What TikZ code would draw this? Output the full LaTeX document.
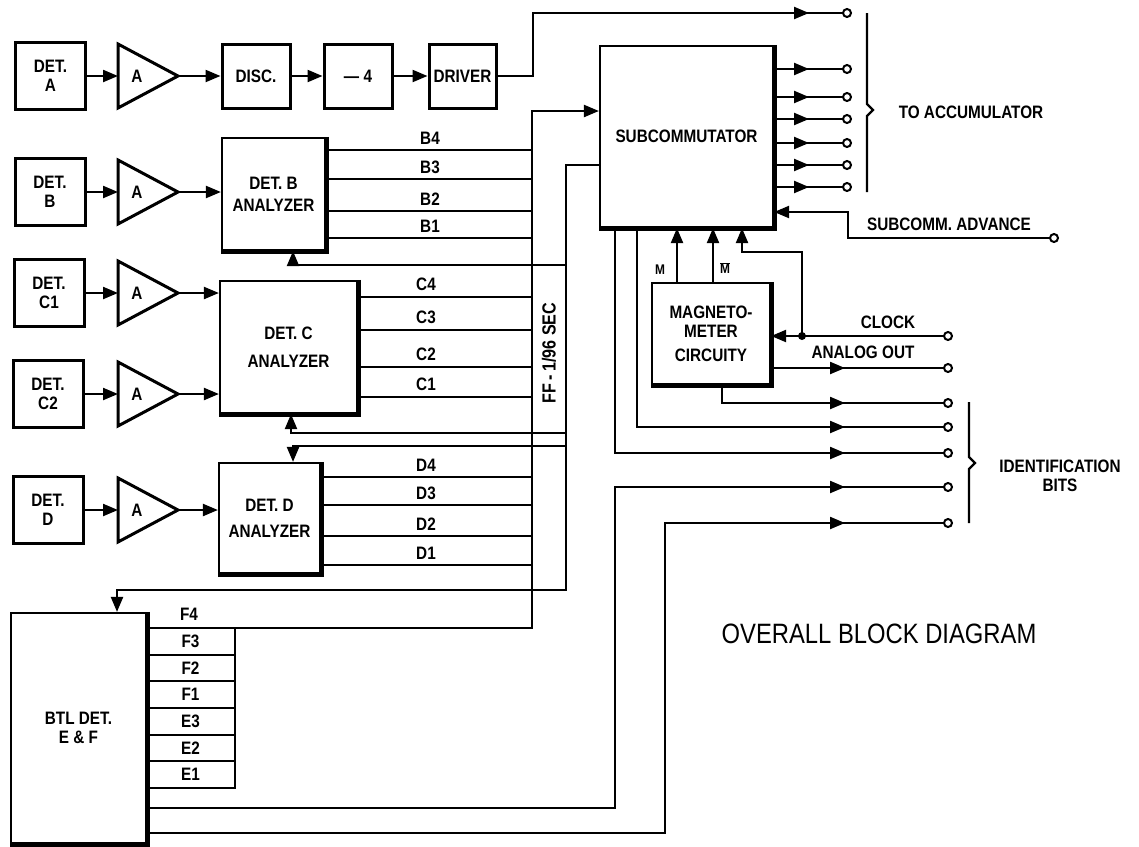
\documentclass[tikz,border=0pt]{standalone}
\usepackage{fontspec}
\setmainfont{Liberation Sans}[FakeStretch=0.85]
\usetikzlibrary{arrows.meta,decorations.markings}

\begin{document}
\begin{tikzpicture}
  [x=1pt, y=-1pt, >={Triangle[length=15pt,width=12pt]},
   every node/.style={font=\bfseries\fontsize{18}{19}\selectfont, inner sep=0pt},
   box/.style={draw, line width=3pt, align=center, minimum width=70pt, minimum height=67pt},
   bigbox/.style={draw, line width=2.2pt, align=center},
   heavy/.style={line width=5pt},
   ampline/.style={line width=3pt, line join=miter},
   sig/.style={line width=2.2pt},
   cell/.style={draw, line width=2pt, minimum width=89pt, minimum height=26.67pt},
   term/.style={circle, draw, line width=2pt, fill=white, minimum size=8pt},
   tipat/.style={decoration={markings, mark=at position #1 with {\arrow{>}}}, postaction=decorate}]
  \useasboundingbox (0,0) rectangle (1139,846);

  % detector A chain
  \node[box] (deta) at (50.5,76) {DET.\\A};
  \node[box, minimum width=68pt, minimum height=64pt] (disc) at (256,76) {DISC.};
  \node[box, minimum width=68pt, minimum height=64pt] (div) at (358,76) {--- 4};
  \node[box, minimum width=67pt, minimum height=64pt] (driver) at (462.5,76) {DRIVER};

  % other detectors
  \node[box] (detb) at (50,192) {DET.\\B};
  \node[box] (detc1) at (49,293) {DET.\\C1};
  \node[box] (detc2) at (48,394) {DET.\\C2};
  \node[box] (detd) at (48,510) {DET.\\D};

  % amplifiers
  \foreach \n/\y in {ampa/76,ampb/192,ampc1/293,ampc2/394,ampd/510}{
    \draw[ampline] (118,\y-32) -- (178,\y) -- (118,\y+32) -- cycle;
    \node (\n) at (137,\y) {A};
    \coordinate (\n-in) at (118,\y);
    \coordinate (\n-out) at (178,\y);
  }

  % analyzers and main blocks
  \node[bigbox, minimum width=103pt, minimum height=112pt] (banal) at (273.5,194) {DET. B\\[3pt]ANALYZER};
  \node[bigbox, minimum width=137pt, minimum height=132pt] (canal) at (288.5,347) {DET. C\\[9pt]ANALYZER};
  \node[bigbox, minimum width=101pt, minimum height=110pt] (danal) at (269.5,518) {DET. D\\[7pt]ANALYZER};
  \node[bigbox, minimum width=173pt, minimum height=181pt] (subc) at (686.5,136.5) {SUBCOMMUTATOR};
  \node[bigbox, minimum width=118pt, minimum height=101pt] (mag) at (711,333.5) {MAGNETO-\\METER\\[5pt]CIRCUITY};
  \node[bigbox, minimum width=135pt, minimum height=230pt] (btl) at (78.5,728) {BTL DET.\\E \& F};
  \foreach \n in {banal,canal,danal,subc,mag,btl}
    \draw[heavy] (\n.north east) -- (\n.south east) -- (\n.south west);

  % inputs
  \draw[sig,->] (deta) -- (ampa-in);
  \draw[sig,->] (ampa-out) -- (disc);
  \draw[sig,->] (disc) -- (div);
  \draw[sig,->] (div) -- (driver);
  \draw[sig,->] (detb) -- (ampb-in);
  \draw[sig,->] (detc1) -- (ampc1-in);
  \draw[sig,->] (detc2) -- (ampc2-in);
  \draw[sig,->] (detd) -- (ampd-in);
  \draw[sig,->] (ampb-out) -- (ampb-out -| banal.west);
  \draw[sig,->] (ampc1-out) -- (ampc1-out -| canal.west);
  \draw[sig,->] (ampc2-out) -- (ampc2-out -| canal.west);
  \draw[sig,->] (ampd-out) -- (ampd-out -| danal.west);

  % analyzer outputs to the bus
  \foreach \y/\t in {150/B4,179/B3,211/B2,238/B1}{
    \coordinate (j\t) at (532,\y);
    \draw[sig] (banal.east |- j\t) -- (j\t);
    \node (l\t) at (430,\y-12) {\t};
  }
  \foreach \y/\t in {297/C4,330/C3,367/C2,397/C1}{
    \coordinate (j\t) at (532,\y);
    \draw[sig] (canal.east |- j\t) -- (j\t);
    \node (l\t) at (426,\y-13) {\t};
  }
  \foreach \y/\t in {477/D4,505/D3,536/D2,565/D1}{
    \coordinate (j\t) at (532,\y);
    \draw[sig] (danal.east |- j\t) -- (j\t);
    \node (l\t) at (426,\y-12) {\t};
  }

  % bus into subcommutator
  \coordinate (lbtop) at (532,111);
  \coordinate (lbbot) at (532,628);
  \draw[sig,->] (btl.east |- lbbot) -- (lbbot) -- (lbtop) -- (lbtop -| subc.west);
  \node (lF4) at (189,614) {F4};
  \foreach \t [count=\i] in {F3,F2,F1,E3,E2,E1}
    \node[cell] (c\t) at (190.5,{628+26.67*(\i-0.5)}) {\t};

  % flip-flop line back to the analyzers
  \coordinate (rbtop) at (566,165);
  \coordinate (rbbot) at (566,590);
  \draw[sig,->] (rbtop -| subc.west) -- (rbtop) -- (rbbot) -| ([xshift=38.5pt]btl.north);
  \coordinate (fbb) at (566,265);
  \coordinate (fbc) at (566,433);
  \coordinate (fbd) at (566,446);
  \draw[sig,->] (fbb) -| ([xshift=19.5pt]banal.south);
  \draw[sig,->] (fbc) -| ([xshift=2.5pt]canal.south);
  \draw[sig,->] (fbd) -| ([xshift=23.5pt]danal.north);
  \node[rotate=90, font=\bfseries\fontsize{19}{19}\selectfont] (ff) at (549,353) {FF\,-\,1/96 SEC};

  % to accumulator
  \node[term] (acc0) at (847,13) {};
  \coordinate (drvup) at (533,13);
  \draw[sig,tipat=-33pt] (driver.east) -| (drvup) -- (acc0);
  \foreach \y [count=\i] in {69,97,119,143,165,187}{
    \node[term] (acc\i) at (847,\y) {};
    \draw[sig,tipat=-33pt] (subc.east |- acc\i) -- (acc\i);
  }
  \draw[sig] (867,13) -- (867,104) -- (873,110) -- (867,116) -- (867,192);
  \node (toacc) at (971,112) {TO ACCUMULATOR};

  % subcommutator advance
  \node[term] (adv) at (1054,238) {};
  \coordinate (advup) at (848,212);
  \draw[sig,->] (adv) -| (advup) -- (advup -| subc.east);
  \node (advlbl) at (949,224) {SUBCOMM. ADVANCE};

  % magnetometer
  \draw[sig,->] ([xshift=-34pt]mag.north) -- ([xshift=-34pt]mag.north |- subc.south);
  \draw[sig,->] ([xshift=2pt]mag.north) -- ([xshift=2pt]mag.north |- subc.south);
  \node[font=\bfseries\fontsize{14}{14}\selectfont] (mlbl) at (660,270) {M};
  \node[font=\bfseries\fontsize{14}{14}\selectfont] (mbarlbl) at (725,268) {$\overline{\mbox{M}}$};
  \node[term] (clk) at (948,336) {};
  \coordinate (clkdot) at (802,336);
  \coordinate (clkup) at (742,252);
  \draw[sig,->] (clk) -- (clk -| mag.east);
  \draw[sig,->] (clkdot) |- (clkup) -- (clkup |- subc.south);
  \fill (clkdot) circle (4pt);
  \node (clklbl) at (888,322) {CLOCK};
  \node[term] (ana) at (948,368) {};
  \draw[sig,tipat=-98pt] (mag.east |- ana) -- (ana);
  \node (analbl) at (863,352) {ANALOG OUT};

  % identification bits
  \foreach \y [count=\i] in {403,427,453,487,523}
    \node[term] (id\i) at (948,\y) {};
  \draw[sig,tipat=-98pt] ([xshift=11pt]mag.south) |- (id1);
  \draw[sig,tipat=-98pt] ([xshift=-49.5pt]subc.south) |- (id2);
  \draw[sig,tipat=-98pt] ([xshift=-71.5pt]subc.south) |- (id3);
  \coordinate (id4up) at (615,487);
  \coordinate (id5up) at (665,523);
  \draw[sig,tipat=-98pt] ([yshift=-80pt]btl.east) -| (id4up) -- (id4);
  \draw[sig,tipat=-98pt] ([yshift=-105pt]btl.east) -| (id5up) -- (id5);
  \draw[sig] (969,402) -- (969,457) -- (975,463) -- (969,469) -- (969,523);
  \node[align=center] (idlbl) at (1060,476) {IDENTIFICATION\\BITS};

  \node[font=\fontsize{28}{28}\selectfont] (title) at (879,634) {OVERALL BLOCK DIAGRAM};
\end{tikzpicture}
\end{document}
